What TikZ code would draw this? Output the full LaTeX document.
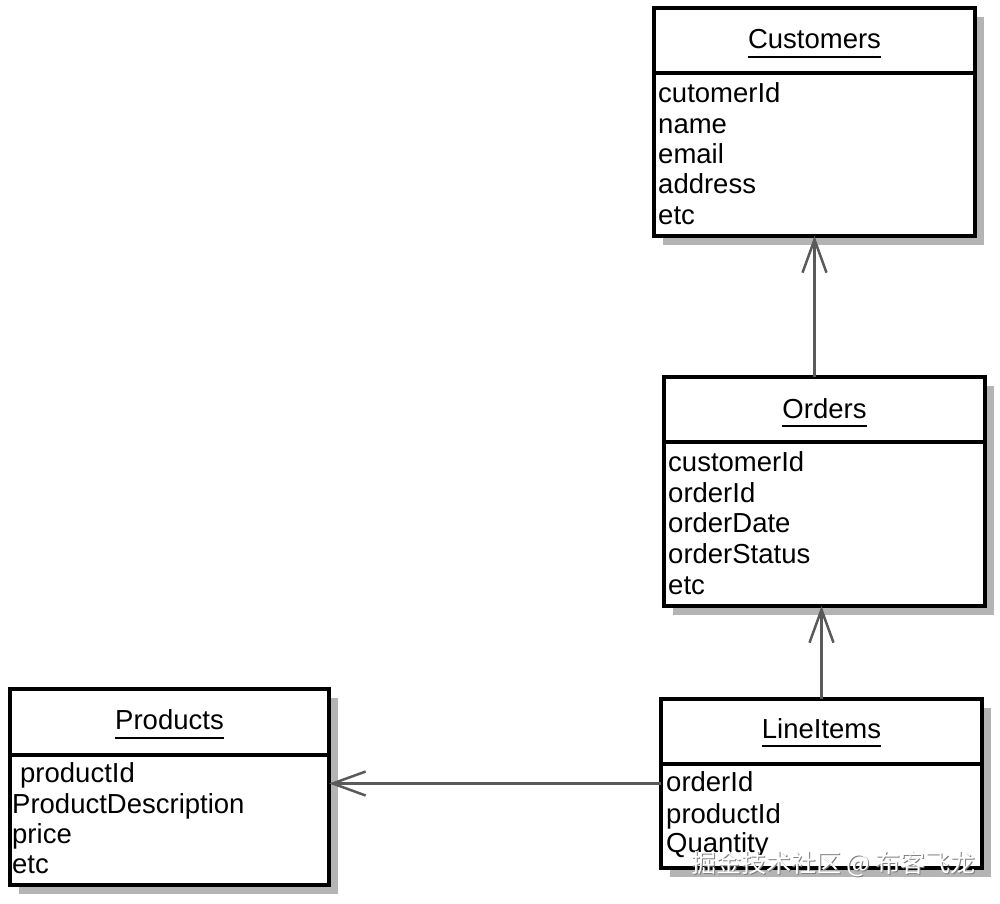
\documentclass[tikz,border=0pt]{standalone}
\usepackage{fontspec}
\setmainfont{Liberation Sans}
\newfontfamily\cjk{Noto Sans CJK SC}
\usetikzlibrary{arrows.meta,shadows}
\definecolor{shadowgray}{HTML}{B4B4B4}
\definecolor{linkgray}{HTML}{5A5A5A}
\tikzset{
  umlbox/.style={draw=black, line width=4pt, fill=white, inner sep=0pt, outer sep=0pt,
    drop shadow={shadow xshift=9pt, shadow yshift=-9pt, fill=shadowgray, opacity=1}},
  divider/.style={draw=black, line width=4pt},
  title/.style={font=\fontsize{27.5}{30}\selectfont, inner sep=0pt, anchor=base},
  attr/.style={font=\fontsize{27.5}{30}\selectfont, inner sep=0pt, anchor=base west},
  uline/.style={draw=black, line width=2.5pt},
  assoc/.style={draw=linkgray, line width=2.5pt, -{Straight Barb[length=33pt,width=24pt,line width=2.5pt]}},
  wmark/.style={font=\cjk\fontsize{25}{27}\selectfont, inner sep=0pt}
}
\begin{document}
\begin{tikzpicture}[x=1pt,y=-1pt]
\useasboundingbox[fill=white] (0,0) rectangle (1000,903);

% Customers
\node[umlbox, minimum width=321pt, minimum height=228pt] (cust) at (814.5,122) {};
\draw[divider] ([yshift=-65pt]cust.north west) -- ([yshift=-65pt]cust.north east);
\node[title] (custt) at (814.5,48) {Customers};
\draw[uline] ([yshift=-9pt]custt.base west) -- ([yshift=-9pt]custt.base east);
\node[attr] (c1) at (658,102) {cutomerId};
\node[attr] (c2) at (658,133) {name};
\node[attr] (c3) at (658,163) {email};
\node[attr] (c4) at (658,193) {address};
\node[attr] (c5) at (658,224) {etc};

% Orders
\node[umlbox, minimum width=321pt, minimum height=229pt] (ord) at (824.5,491.5) {};
\draw[divider] ([yshift=-65pt]ord.north west) -- ([yshift=-65pt]ord.north east);
\node[title] (ordt) at (824.5,418) {Orders};
\draw[uline] ([yshift=-8pt]ordt.base west) -- ([yshift=-8pt]ordt.base east);
\node[attr] (o1) at (668,471) {customerId};
\node[attr] (o2) at (668,502) {orderId};
\node[attr] (o3) at (668,532) {orderDate};
\node[attr] (o4) at (668,563) {orderStatus};
\node[attr] (o5) at (668,594) {etc};

% LineItems
\node[umlbox, minimum width=321pt, minimum height=169pt] (li) at (821.5,783.5) {};
\draw[divider] ([yshift=-65pt]li.north west) -- ([yshift=-65pt]li.north east);
\node[title] (lit) at (821.5,738) {LineItems};
\draw[uline] ([yshift=-8pt]lit.base west) -- ([yshift=-8pt]lit.base east);
\node[attr] (l1) at (666,791) {orderId};
\node[attr] (l2) at (666,823) {productId};
\node[attr] (l3) at (666,852) {Quantity};

% Products
\node[umlbox, minimum width=319pt, minimum height=196pt] (prod) at (169.5,787) {};
\draw[divider] ([yshift=-66pt]prod.north west) -- ([yshift=-66pt]prod.north east);
\node[title] (prodt) at (169.5,729) {Products};
\draw[uline] ([yshift=-9pt]prodt.base west) -- ([yshift=-9pt]prodt.base east);
\node[attr] (p1) at (20,782) {productId};
\node[attr] (p2) at (12,813) {ProductDescription};
\node[attr] (p3) at (12,843) {price};
\node[attr] (p4) at (12,873) {etc};

% Connectors
\draw[assoc] (ord.north -| cust.south) -- (cust.south);
\draw[assoc] (li.north) -- (li.north |- ord.south);
\draw[assoc] (li.west) -- (li.west -| prod.east);

% Watermark
\node[wmark, text=gray] (wms) at (834.5,865) {掘金技术社区 @ 布客飞龙};
\node[wmark, text=white] (wm) at (833.5,864) {掘金技术社区 @ 布客飞龙};
\end{tikzpicture}
\end{document}
